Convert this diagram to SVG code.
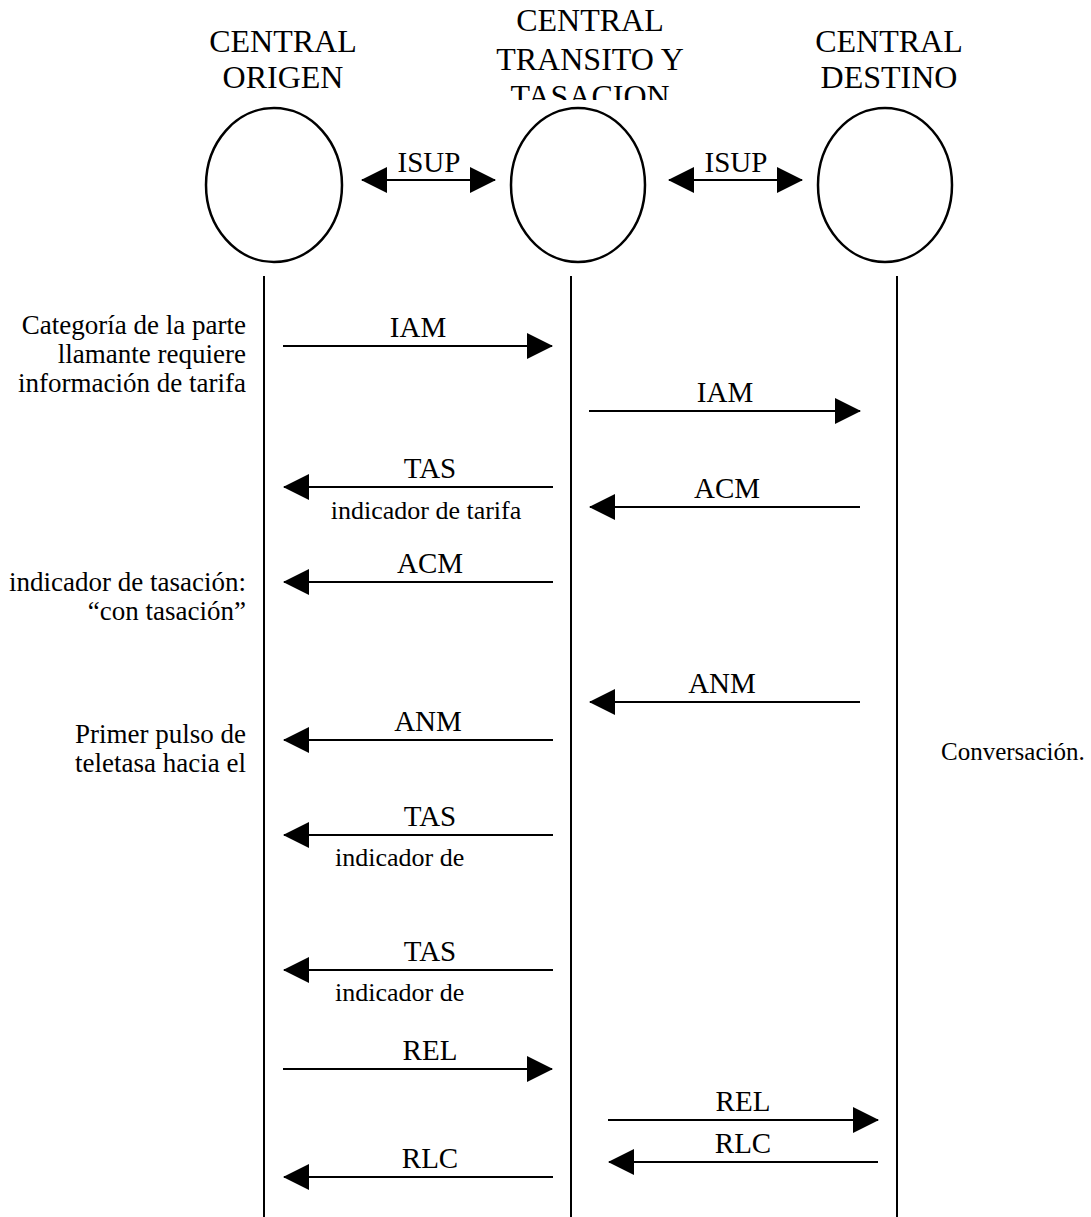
<svg xmlns="http://www.w3.org/2000/svg" width="1091" height="1217" viewBox="0 0 1091 1217">
<style>
text{font-family:"Liberation Serif","Times New Roman",serif;fill:#000}
.h{font-size:32px;text-anchor:middle}
.m{font-size:29px;text-anchor:middle}
.l{font-size:26px}
.lc{font-size:26px;text-anchor:middle}
.s{font-size:27px;text-anchor:end}
.n{fill:#fff;stroke:#000;stroke-width:2.5}
.life{stroke:#000;stroke-width:2}
.msg{stroke:#000;stroke-width:2;fill:none}
</style>
<defs>
<marker id="ah" viewBox="0 0 26 26" refX="25" refY="13" markerWidth="26" markerHeight="26" markerUnits="userSpaceOnUse" orient="auto-start-reverse">
<path d="M0,0 L26,13 L0,26 z" fill="#000"/>
</marker>
<clipPath id="hc"><rect x="0" y="0" width="1091" height="100"/></clipPath>
</defs>
<rect width="1091" height="1217" fill="#fff"/>
<g id="node-origen">
<text class="h" x="283" y="52">CENTRAL</text>
<text class="h" x="283" y="88">ORIGEN</text>
<ellipse class="n" cx="274" cy="185" rx="68" ry="77"/>
</g>
<g id="node-transito">
<g clip-path="url(#hc)">
<text class="h" x="590" y="31">CENTRAL</text>
<text class="h" x="590" y="70">TRANSITO Y</text>
<text class="h" x="590" y="107">TASACION</text>
</g>
<ellipse class="n" cx="578" cy="185" rx="67" ry="77"/>
</g>
<g id="node-destino">
<text class="h" x="889" y="52">CENTRAL</text>
<text class="h" x="889" y="88">DESTINO</text>
<ellipse class="n" cx="885" cy="185" rx="67" ry="77"/>
</g>
<g id="lifelines">
<line class="life" x1="264" y1="276" x2="264" y2="1217"/>
<line class="life" x1="571" y1="276" x2="571" y2="1217"/>
<line class="life" x1="897" y1="276" x2="897" y2="1217"/>
</g>
<g id="notes">
<text class="s" x="246" y="334">Categoría de la parte</text>
<text class="s" x="246" y="363">llamante requiere</text>
<text class="s" x="246" y="392">información de tarifa</text>
<text class="s" x="246" y="591">indicador de tasación:</text>
<text class="s" x="246" y="620">“con tasación”</text>
<text class="s" x="246" y="743">Primer pulso de</text>
<text class="s" x="246" y="772">teletasa hacia el</text>
<text style="font-size:25px" x="941" y="760">Conversación.</text>
</g>
<g id="connectors">
<line class="msg" x1="362" y1="180" x2="495" y2="180" marker-start="url(#ah)" marker-end="url(#ah)"/>
<line class="msg" x1="669" y1="180" x2="802" y2="180" marker-start="url(#ah)" marker-end="url(#ah)"/>
<line class="msg" x1="283" y1="346" x2="552" y2="346" marker-end="url(#ah)"/>
<line class="msg" x1="589" y1="411" x2="860" y2="411" marker-end="url(#ah)"/>
<line class="msg" x1="553" y1="487" x2="284" y2="487" marker-end="url(#ah)"/>
<line class="msg" x1="860" y1="507" x2="590" y2="507" marker-end="url(#ah)"/>
<line class="msg" x1="553" y1="582" x2="284" y2="582" marker-end="url(#ah)"/>
<line class="msg" x1="860" y1="702" x2="590" y2="702" marker-end="url(#ah)"/>
<line class="msg" x1="553" y1="740" x2="284" y2="740" marker-end="url(#ah)"/>
<line class="msg" x1="553" y1="835" x2="284" y2="835" marker-end="url(#ah)"/>
<line class="msg" x1="553" y1="970" x2="284" y2="970" marker-end="url(#ah)"/>
<line class="msg" x1="283" y1="1069" x2="552" y2="1069" marker-end="url(#ah)"/>
<line class="msg" x1="608" y1="1120" x2="878" y2="1120" marker-end="url(#ah)"/>
<line class="msg" x1="878" y1="1162" x2="609" y2="1162" marker-end="url(#ah)"/>
<line class="msg" x1="553" y1="1177" x2="284" y2="1177" marker-end="url(#ah)"/>
</g>
<g id="labels">
<text class="m" x="429" y="172">ISUP</text>
<text class="m" x="736" y="172">ISUP</text>
<text class="m" x="418" y="337">IAM</text>
<text class="m" x="725" y="402">IAM</text>
<text class="m" x="430" y="478">TAS</text>
<text class="lc" x="426" y="519">indicador de tarifa</text>
<text class="m" x="727" y="498">ACM</text>
<text class="m" x="430" y="573">ACM</text>
<text class="m" x="722" y="693">ANM</text>
<text class="m" x="428" y="731">ANM</text>
<text class="m" x="430" y="826">TAS</text>
<text class="l" x="335" y="866">indicador de</text>
<text class="m" x="430" y="961">TAS</text>
<text class="l" x="335" y="1001">indicador de</text>
<text class="m" x="430" y="1060">REL</text>
<text class="m" x="743" y="1111">REL</text>
<text class="m" x="743" y="1153">RLC</text>
<text class="m" x="430" y="1168">RLC</text>
</g>
</svg>
